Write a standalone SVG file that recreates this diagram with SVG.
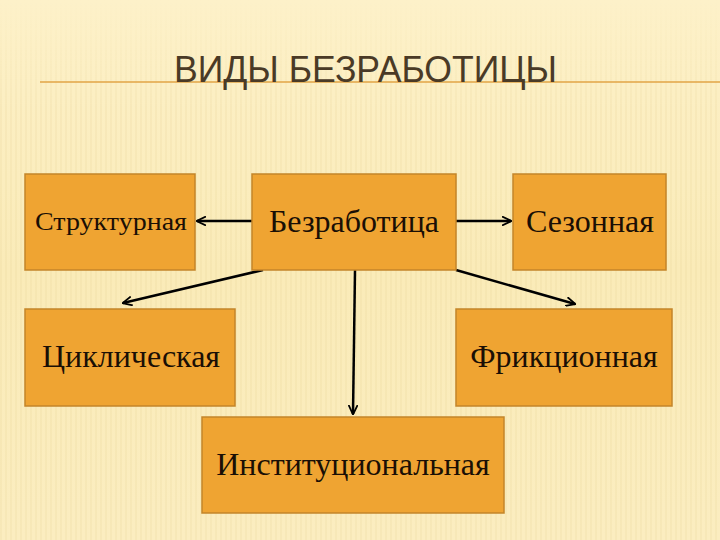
<svg xmlns="http://www.w3.org/2000/svg" width="720" height="540" viewBox="0 0 720 540">
<defs>
<linearGradient id="bg" x1="0" y1="0" x2="0" y2="1">
<stop offset="0" stop-color="#fdf1c9"/>
<stop offset="0.5" stop-color="#faebb8"/>
<stop offset="1" stop-color="#fbedc0"/>
</linearGradient>
<linearGradient id="fade" x1="0" y1="0" x2="0" y2="1">
<stop offset="0" stop-color="#fff" stop-opacity="0"/>
<stop offset="0.2" stop-color="#fff" stop-opacity="1"/>
<stop offset="1" stop-color="#fff" stop-opacity="1"/>
</linearGradient>
<mask id="m"><rect width="720" height="540" fill="url(#fade)"/></mask>
<pattern id="stripes" width="5" height="540" patternUnits="userSpaceOnUse">
<rect x="0" y="0" width="2" height="540" fill="#e3cc8c" opacity="0.35"/>
</pattern>
<marker id="ah" viewBox="0 0 10 10" refX="9" refY="5" markerWidth="10" markerHeight="10" orient="auto" markerUnits="userSpaceOnUse">
<path d="M0,0.5 L9.5,5 L0,9.5" fill="none" stroke="#000" stroke-width="1.8"/>
</marker>
<style>
.box{fill:#efa432;stroke:#c4852a;stroke-width:1.5}
.lbl{font-family:"Liberation Serif","Times New Roman",serif;fill:#1a0f05;text-anchor:middle;dominant-baseline:central;font-size:32px}
.conn{stroke:#000;stroke-width:2.5;fill:none;marker-end:url(#ah)}
</style>
</defs>
<rect width="720" height="540" fill="url(#bg)"/>
<rect x="0" y="0" width="720" height="540" fill="url(#stripes)" opacity="0.45" mask="url(#m)"/>
<g id="title">
<line x1="40" y1="82" x2="720" y2="82" stroke="#e2a446" stroke-width="1.5"/>
<text x="174" y="82" font-family="'Liberation Sans',Arial,sans-serif" font-size="37" fill="#4a3a26" textLength="383" lengthAdjust="spacingAndGlyphs">ВИДЫ БЕЗРАБОТИЦЫ</text>
</g>
<g id="connectors">
<line class="conn" x1="252" y1="221" x2="197" y2="221"/>
<line class="conn" x1="456" y1="221" x2="511" y2="221"/>
<line class="conn" x1="263" y1="270" x2="123" y2="303"/>
<line class="conn" x1="355" y1="270" x2="353" y2="414"/>
<line class="conn" x1="456" y1="270" x2="575" y2="304"/>
</g>
<g id="node-structural">
<rect class="box" x="25" y="174" width="170" height="96"/>
<text class="lbl" x="111" y="221" style="font-size:26px" textLength="152" lengthAdjust="spacingAndGlyphs">Структурная</text>
</g>
<g id="node-unemployment">
<rect class="box" x="252" y="174" width="204" height="96"/>
<text class="lbl" x="354" y="221">Безработица</text>
</g>
<g id="node-seasonal">
<rect class="box" x="513" y="174" width="153" height="96"/>
<text class="lbl" x="590" y="221">Сезонная</text>
</g>
<g id="node-cyclical">
<rect class="box" x="25" y="309" width="210" height="97"/>
<text class="lbl" x="131" y="356">Циклическая</text>
</g>
<g id="node-frictional">
<rect class="box" x="456" y="309" width="216" height="97"/>
<text class="lbl" x="564" y="356">Фрикционная</text>
</g>
<g id="node-institutional">
<rect class="box" x="202" y="417" width="302" height="96"/>
<text class="lbl" x="353" y="464">Институциональная</text>
</g>
</svg>
